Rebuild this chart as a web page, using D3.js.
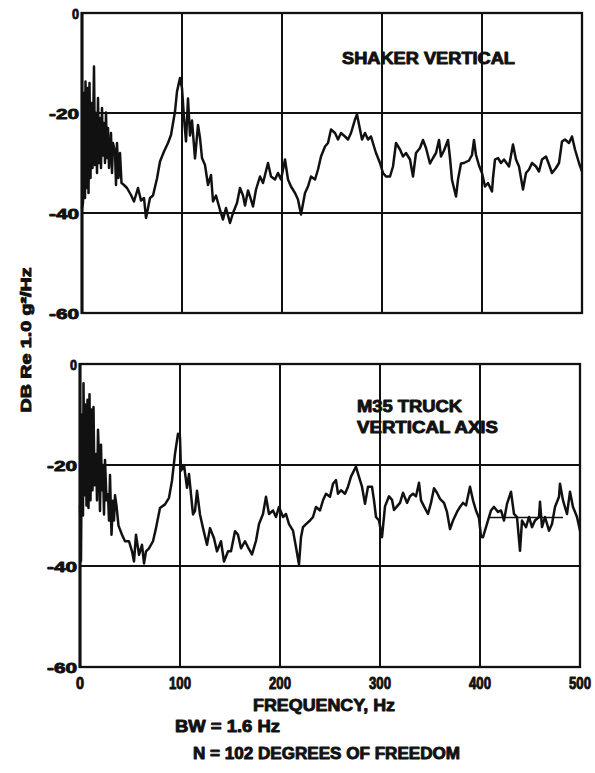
<!DOCTYPE html>
<html>
<head>
<meta charset="utf-8">
<script src="https://cdn.jsdelivr.net/npm/d3@7"></script>
<style>
  html, body { margin: 0; padding: 0; background: #fff; }
  svg { display: block; }
  text { font-family: "Liberation Sans", "Arial", sans-serif; font-weight: 900; fill: #111; stroke: #111; stroke-width: 0.9px; stroke-linejoin: round; }
</style>
</head>
<body>
<script>
// Power spectral density, two measurements, 0-500 Hz
const xTicks = [0, 100, 200, 300, 400, 500];
const yTicks = [0, -20, -40, -60];
const yTickLabels = ["0", "-20", "-40", "-60"];

const shakerFreq = [0, 1, 2, 3, 3.5, 4.5, 5.5, 6.5, 7.5, 8.5, 9.5, 10.5, 12, 13, 14, 15, 16, 17, 18, 19,
  20, 21, 22, 23, 24, 25, 26, 27, 28, 29, 30, 31, 33, 34, 35, 36.5, 38, 39.5,
  42, 45, 49, 52, 56, 59, 62, 64, 68, 71, 75, 78, 82, 86, 89, 93, 95, 98, 100, 102,
  104, 106, 108, 110, 113, 116, 118, 120, 123, 126, 129, 131, 134, 138, 141, 144, 148, 151, 155, 158,
  161, 163, 166, 168, 171, 174, 178, 181, 186, 189, 193, 196, 199, 203, 206, 209, 213, 216, 219, 223,
  226, 229, 233, 236, 239, 243, 246, 249, 253, 256, 259, 263, 266, 269, 273, 275, 278, 280, 283, 286,
  289, 292, 294, 298, 301, 304, 308, 311, 314, 318, 321, 324, 328, 331, 334, 338, 341, 344, 348, 351,
  354, 357, 359, 362, 366, 368, 370, 374, 376, 379, 382, 387, 390, 392, 394, 397, 400, 403, 406, 410,
  411, 413, 416, 419, 422, 427, 431, 434, 437, 441, 444, 447, 450, 454, 457, 460, 464, 467, 470, 474,
  477, 480, 483, 487, 490, 493, 497, 500];
const shakerDb = [-39, -38, -16, -37, -13.7, -35, -15, -36, -14, -33, -18, -31, -10.7, -30.4, -20, -32, -17, -30, -21, -31,
  -19, -28.5, -22, -30, -19.9, -29, -23, -31, -27.7, -24, -32, -26, -27.7, -34.4, -26, -33, -28, -34,
  -34.4, -35, -36.4, -37.7, -35, -37.5, -37, -41, -37, -36.5, -33.1, -29.7, -27.7, -26, -24.4, -19.7, -15.7, -13, -15, -21,
  -25.7, -17.1, -24.5, -21.5, -29.1, -22.4, -25, -29, -30.4, -34.4, -32.4, -37.7, -36.5, -39.4, -41.3, -39, -42, -40, -38, -35,
  -36.5, -38.5, -35.5, -36.7, -38.7, -35.3, -32.7, -34, -30, -32.7, -33.3, -32, -33.3, -29.3, -33.3, -34.7, -36, -37.3, -40.3, -36,
  -34.7, -32.7, -33.3, -31.3, -28.7, -26.7, -26, -23.3, -24, -25.3, -24, -24.7, -25.3, -24, -21.3, -20.3, -23.3, -25.3, -24, -25.3,
  -24.7, -26.7, -28, -30, -32, -32.7, -32.7, -30.7, -26, -27.3, -28.7, -28, -29.3, -32.7, -28, -27, -25.4, -27, -30.1, -29,
  -28, -25.4, -28.7, -27.5, -25.4, -29, -33.4, -36.7, -33.3, -30.1, -30, -29.5, -28.4, -25.4, -28.4, -30.5, -32, -34.7, -34, -35.7,
  -33, -29.3, -29, -30, -29.3, -30.7, -26.3, -29.3, -30.7, -35.3, -32, -31.3, -30, -30.7, -31.7, -29.3, -28.7, -30.3, -32, -31,
  -30, -25.7, -25.3, -26, -24.7, -27.3, -30, -31.7];

const truckFreq = [0, 1, 2, 3, 3.5, 4.5, 5.5, 6.5, 7.5, 8.5, 9.5, 10.5, 11.5, 12.5, 13.5, 14.5, 16, 17, 18, 19,
  20, 21, 22, 23, 24, 25, 26.5, 28, 29, 30, 31.5, 33, 34, 35, 36.5,
  38.5, 42, 45, 49, 52, 54, 56, 59, 62, 64, 66, 69, 73, 76, 80, 85, 89, 92, 95, 98,
  100, 101, 104, 107, 109, 113, 115, 117, 120, 123, 127, 130, 134, 137, 141, 144, 148, 151, 155, 158,
  161, 165, 168, 172, 176, 179, 183, 186, 189, 193, 196, 199, 203, 206, 209, 213, 216, 219, 221, 223,
  226, 230, 233, 236, 240, 243, 246, 250, 253, 256, 258, 261, 265, 268, 271, 276, 278, 282, 285, 288,
  292, 294, 296, 299, 302, 305, 309, 312, 314, 317, 320, 323, 327, 330, 333, 336, 339, 341, 344, 348,
  351, 354, 357, 360, 364, 367, 370, 373, 377, 380, 383, 386, 390, 393, 396, 399, 401, 403, 406, 411,
  414, 418, 421, 424, 427, 431, 434, 437, 440, 442, 446, 449, 452, 455, 459, 460, 462, 465, 469, 472,
  475, 479, 480, 483, 487, 490, 493, 497, 500];
const truckDb = [-28, -39, -10, -30, -3.8, -26, -8, -28, -7.1, -28.5, -6, -27, -9, -25, -8.5, -24, -17.8, -27, -13, -18.5,
  -29.1, -16, -25, -20, -29.8, -19, -27, -25.8, -31, -22, -33.8, -27.1, -31, -26, -28.1,
  -32, -33.8, -35.1, -35.1, -37.1, -39.1, -33.8, -37.8, -35.8, -39.5, -37.1, -36.5, -35.1, -32.5, -28.5, -27.8, -26.5, -23.1, -17.8, -13.8,
  -14.5, -21.1, -20, -24.5, -21.8, -29.8, -29.1, -25.1, -29.8, -32.5, -35.8, -32.5, -34.5, -37.1, -35.1, -39.1, -37.1, -37.1, -33.1, -33.8,
  -36.5, -35.1, -36.3, -37.7, -35, -31.7, -29.7, -26.3, -29.7, -29, -30.3, -28.3, -30.3, -29.7, -31.7, -33, -36.3, -39.7, -34.3, -32.3,
  -31.7, -31, -30.3, -28.3, -29, -27, -25.7, -26.3, -23.7, -23, -25.7, -25, -25.7, -24.3, -22.3, -20.3, -21.7, -24.3, -27.7, -24.3,
  -24.3, -27, -30.3, -31, -34.3, -28.2, -26.2, -26.9, -28.9, -28.2, -27.5, -25.5, -27.5, -26.2, -25.7, -26.2, -23.5, -27, -28.2, -29.7,
  -27.5, -24.6, -25.5, -26.7, -27.5, -29.3, -32.7, -31, -29.3, -28.3, -27.5, -28, -24.3, -27, -29, -30.5, -34.2, -34.3, -32.3, -29,
  -28.3, -29.3, -29, -31, -27.7, -25.3, -29.7, -30.3, -37, -31, -32.3, -30.3, -32.3, -31, -30.3, -27.3, -32.3, -30.3, -33, -31.7,
  -28.3, -26.3, -23.7, -27, -29.7, -25.3, -28.3, -30.3, -33];

// Short level marker drawn across part of the lower trace
const truckMarkFreq = [408, 483];
const truckMarkDb = [-30.4, -30.4];

const W = 595, H = 773;
const svg = d3.select("body").append("svg").attr("width", W).attr("height", H);

const panels = [
  { freq: shakerFreq, db: shakerDb, x0: 82, x1: 582, y0: 13, y1: 313,
    title: [{ t: "SHAKER VERTICAL", x: 342, y: 64, w: 173 }] },
  { freq: truckFreq, db: truckDb, x0: 80, x1: 580, y0: 364, y1: 667,
    title: [{ t: "M35 TRUCK", x: 357, y: 412, w: 105 }, { t: "VERTICAL AXIS", x: 357, y: 433, w: 141 }],
    mark: { freq: truckMarkFreq, db: truckMarkDb } }
];

panels.forEach((p, i) => {
  const x = d3.scaleLinear().domain([0, 500]).range([p.x0, p.x1]);
  const y = d3.scaleLinear().domain([-60, 0]).range([p.y1, p.y0]);
  const g = svg.append("g");

  // grid
  g.selectAll(".vg").data(xTicks.slice(1, -1)).join("line")
    .attr("x1", d => x(d)).attr("x2", d => x(d))
    .attr("y1", p.y0).attr("y2", p.y1)
    .attr("stroke", "#111").attr("stroke-width", 2);
  g.selectAll(".hg").data([-20, -40]).join("line")
    .attr("x1", p.x0).attr("x2", p.x1)
    .attr("y1", d => y(d)).attr("y2", d => y(d))
    .attr("stroke", "#111").attr("stroke-width", 2.2);
  g.append("rect")
    .attr("x", p.x0).attr("y", p.y0)
    .attr("width", p.x1 - p.x0).attr("height", p.y1 - p.y0)
    .attr("fill", "none").attr("stroke", "#111").attr("stroke-width", 2.3);
  g.append("line").attr("x1", p.x0).attr("x2", p.x0).attr("y1", p.y0 - 1).attr("y2", p.y1 + 1)
    .attr("stroke", "#111").attr("stroke-width", 3);

  // y tick labels
  g.selectAll(".yt").data(yTicks).join("text")
    .attr("x", p.x0 - 3).attr("y", d => y(d) + 5.5)
    .attr("text-anchor", "end").attr("font-size", 15)
    .attr("textLength", (d, j) => j === 0 ? 7 : 30)
    .attr("lengthAdjust", "spacingAndGlyphs")
    .text((d, j) => yTickLabels[j]);

  // trace
  const pts = p.freq.map((f, j) => [f, p.db[j]]);
  const line = d3.line().x(d => x(d[0])).y(d => y(d[1])).curve(d3.curveLinear);
  g.append("path").datum(pts).attr("d", line)
    .attr("fill", "none").attr("stroke", "#111").attr("stroke-width", 2.5)
    .attr("stroke-linejoin", "round");

  if (p.mark) {
    const mp = p.mark.freq.map((f, j) => [f, p.mark.db[j]]);
    g.append("path").datum(mp).attr("d", line)
      .attr("fill", "none").attr("stroke", "#111").attr("stroke-width", 1.4);
  }

  // panel title
  p.title.forEach(tt => {
    g.append("text").attr("x", tt.x).attr("y", tt.y)
      .attr("font-size", 16).attr("textLength", tt.w).attr("lengthAdjust", "spacingAndGlyphs")
      .text(tt.t);
  });

  // x tick labels under the lower panel
  if (i === 1) {
    g.selectAll(".xt").data(xTicks).join("text")
      .attr("x", d => x(d)).attr("y", 689)
      .attr("text-anchor", "middle").attr("font-size", 16)
      .attr("textLength", d => d === 0 ? 8 : 22)
      .attr("lengthAdjust", "spacingAndGlyphs")
      .text(d => d);
  }
});

// axis titles and notes
svg.append("text")
  .attr("transform", "translate(31,340) rotate(-90)")
  .attr("text-anchor", "middle").attr("font-size", 14)
  .attr("textLength", 145).attr("lengthAdjust", "spacingAndGlyphs")
  .text("DB Re 1.0 g²/Hz");

svg.append("text").attr("x", 253).attr("y", 711)
  .attr("font-size", 17).attr("textLength", 142).attr("lengthAdjust", "spacingAndGlyphs")
  .text("FREQUENCY, Hz");
svg.append("text").attr("x", 175).attr("y", 732)
  .attr("font-size", 16).attr("textLength", 105).attr("lengthAdjust", "spacingAndGlyphs")
  .text("BW = 1.6 Hz");
svg.append("text").attr("x", 193).attr("y", 759)
  .attr("font-size", 16).attr("textLength", 267).attr("lengthAdjust", "spacingAndGlyphs")
  .text("N = 102 DEGREES OF FREEDOM");
</script>
</body>
</html>
